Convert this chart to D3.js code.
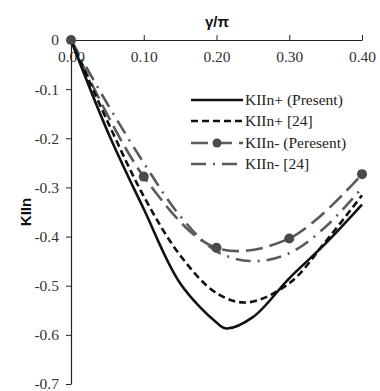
<!DOCTYPE html>
<html><head><meta charset="utf-8">
<script src="https://cdn.jsdelivr.net/npm/d3@7"></script>
<style>body{margin:0;background:#fff} .ax text{font-family:'Liberation Serif','Times New Roman',serif}</style>
</head><body>
<svg id="c" width="380" height="391"></svg>
<script>
const xTicks = [0, 0.1, 0.2, 0.3, 0.4];
const yTicks = [0, -0.1, -0.2, -0.3, -0.4, -0.5, -0.6, -0.7];
const xTitle = "γ/π";
const yTitle = "KIIn";

const plusPresentX = [0, 0.05, 0.1, 0.15, 0.2, 0.213, 0.25, 0.3, 0.35, 0.4];
const plusPresentY = [0, -0.185, -0.344, -0.495, -0.575, -0.587, -0.564, -0.485, -0.414, -0.335];
const plus24X = [0, 0.05, 0.1, 0.15, 0.2, 0.242, 0.3, 0.35, 0.4];
const plus24Y = [0, -0.165, -0.318, -0.438, -0.515, -0.534, -0.495, -0.41, -0.316];
const minusPresentX = [0, 0.1, 0.2, 0.3, 0.4];
const minusPresentY = [0, -0.278, -0.423, -0.404, -0.273];
const minus24X = [0, 0.05, 0.1, 0.15, 0.2, 0.25, 0.3, 0.35, 0.4];
const minus24Y = [0, -0.13, -0.25, -0.358, -0.43, -0.45, -0.434, -0.38, -0.301];

const legendLabels = ["KIIn+ (Present)", "KIIn+ [24]", "KIIn- (Peresent)", "KIIn- [24]"];

const svg = d3.select("#c");
const x = d3.scaleLinear().domain([0, 0.4]).range([71, 362]);
const y = d3.scaleLinear().domain([0, -0.7]).range([40, 384]);

const serif = "'Liberation Serif','Times New Roman',serif";
const sans = "'Liberation Sans',Arial,sans-serif";

// X axis at top
const xa = svg.append("g").attr("class", "ax").attr("transform", "translate(0,40)")
  .call(d3.axisTop(x).tickValues(xTicks).tickFormat(d3.format(".2f")).tickSize(5).tickSizeOuter(0));
xa.attr("font-family", serif);
xa.select(".domain").attr("stroke", "#222").attr("stroke-width", 1.2);
xa.selectAll(".tick line").attr("stroke", "#222");
xa.selectAll(".tick text").attr("font-family", serif).attr("font-size", 15.5).attr("fill", "#333")
  .attr("y", 22).attr("dy", "0");

// Y axis
const ya = svg.append("g").attr("class", "ax").attr("transform", "translate(71,0)")
  .call(d3.axisLeft(y).tickValues(yTicks).tickFormat(d => d === 0 ? "0" : d3.format(".1f")(d).replace("−", "-")).tickSize(5).tickSizeOuter(0));
ya.attr("font-family", serif);
ya.select(".domain").attr("stroke", "#222").attr("stroke-width", 1.2);
ya.selectAll(".tick line").attr("stroke", "#222");
ya.selectAll(".tick text").attr("font-family", serif).attr("font-size", 15.5).attr("fill", "#333").attr("x", -12);

svg.append("text").attr("x", 217).attr("y", 27).attr("text-anchor", "middle")
  .attr("font-family", sans).attr("font-weight", "bold").attr("font-size", 15).attr("fill", "#111").text(xTitle);
svg.append("text").attr("transform", "translate(31,212) rotate(-90)").attr("text-anchor", "middle")
  .attr("font-family", sans).attr("font-weight", "bold").attr("font-size", 15).attr("fill", "#111").text(yTitle);

const gray = "#5a5a5a";
const styles = [
  {color: "#111", width: 2.6, dash: null},
  {color: "#111", width: 2.6, dash: "7,4"},
  {color: gray, width: 2.6, dash: "17,7"},
  {color: gray, width: 2.6, dash: "15,7,2,7"}
];
const series = [
  [plusPresentX, plusPresentY],
  [plus24X, plus24Y],
  [minusPresentX, minusPresentY],
  [minus24X, minus24Y]
];
const line = d3.line().x(d => x(d[0])).y(d => y(d[1])).curve(d3.curveCatmullRom.alpha(0.5));

const order = [3, 2, 1, 0];
order.forEach(i => {
  const pts = series[i][0].map((v, j) => [v, series[i][1][j]]);
  svg.append("path").attr("d", line(pts)).attr("fill", "none")
    .attr("stroke", styles[i].color).attr("stroke-width", styles[i].width)
    .attr("stroke-dasharray", styles[i].dash);
});
svg.selectAll("circle.m").data(minusPresentX.map((v, j) => [v, minusPresentY[j]])).enter()
  .append("circle").attr("cx", d => x(d[0])).attr("cy", d => y(d[1])).attr("r", 5).attr("fill", "#4a4a4a");

// Legend
const ly = [100, 121, 143, 164];
legendLabels.forEach((t, i) => {
  const g = svg.append("g");
  g.append("line").attr("x1", 191).attr("x2", 243).attr("y1", ly[i]).attr("y2", ly[i])
    .attr("stroke", styles[i].color).attr("stroke-width", styles[i].width).attr("stroke-dasharray", styles[i].dash);
  if (i === 2) g.append("circle").attr("cx", 217).attr("cy", ly[i]).attr("r", 4.5).attr("fill", "#4a4a4a");
  g.append("text").attr("x", 245).attr("y", ly[i] + 5).attr("font-family", serif).attr("font-size", 15.5)
    .attr("fill", "#222").text(t);
});
</script>
</body></html>
